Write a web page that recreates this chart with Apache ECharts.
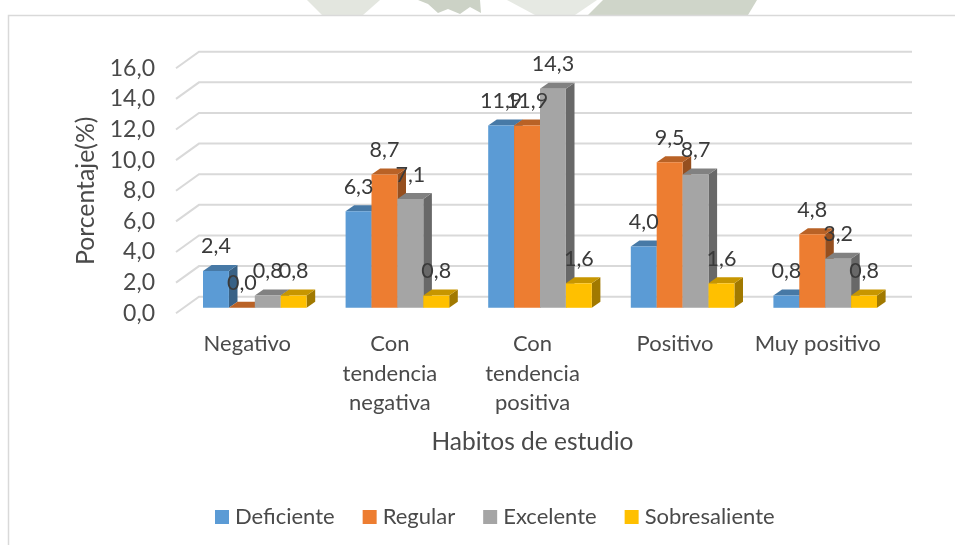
<!DOCTYPE html>
<html><head><meta charset="utf-8">
<style>html,body{margin:0;padding:0;background:#fff}#c{width:955px;height:545px}</style>
<script src="https://cdn.jsdelivr.net/npm/echarts@6/dist/echarts.min.js"></script>
</head><body><div id="c"></div>
<script>
const categories = ['Negativo', 'Con\ntendencia\nnegativa', 'Con\ntendencia\npositiva', 'Positivo', 'Muy positivo'];
const deficiente = [2.4, 6.3, 11.9, 4.0, 0.8];
const regular = [0.0, 8.7, 11.9, 9.5, 4.8];
const excelente = [0.8, 7.1, 14.3, 8.7, 3.2];
const sobresaliente = [0.8, 0.8, 1.6, 1.6, 0.8];
const seriesNames = ['Deficiente', 'Regular', 'Excelente', 'Sobresaliente'];
const seriesColors = ['#5B9BD5', '#ED7D31', '#A5A5A5', '#FFC000'];
const yTicks = [0, 2, 4, 6, 8, 10, 12, 14, 16];

const FONT = 'Lato';
const TXT = '#3a3a3a';
const AXT = '#4a4a4a';
const shade = (hex, f) => {
  const n = parseInt(hex.slice(1), 16);
  const c = [n >> 16, (n >> 8) & 255, n & 255].map(v => Math.round(v * f));
  return `rgb(${c[0]},${c[1]},${c[2]})`;
};
const fmt = v => v.toFixed(1).replace('.', ',');
// 3D projection of the chart box
const WALL = [23, -16.6];   // back wall offset from front axis plane
const BASE = [7.5, -5.5];   // bar front-face offset
const DEPTH = [8.6, -6];    // bar depth
const BAR_FRAC = 25.9 / 142.6;

function wallItem(params, api) {
  const r = params.coordSys;
  const y = api.coord([0, api.value(0)])[1];
  return {
    type: 'polyline',
    shape: { points: [[r.x, y], [r.x + WALL[0], y + WALL[1]], [r.x + r.width + WALL[0], y + WALL[1]]] },
    style: { stroke: '#d9d9d9', lineWidth: 2, fill: null },
    z2: 0
  };
}
function barItem(sIdx) {
  return function (params, api) {
    const cat = api.value(0), val = api.value(1);
    const band = api.size([1, 0])[0];
    const w = band * BAR_FRAC;
    const c = api.coord([cat, val]);
    const c0 = api.coord([cat, 0]);
    const x0 = c[0] + BASE[0] + (sIdx - 2) * w, x1 = x0 + w;
    const yt = c[1] + BASE[1], yb = c0[1] + BASE[1];
    const col = api.visual('color');
    const dx = DEPTH[0], dy = DEPTH[1];
    return {
      type: 'group',
      children: [
        { type: 'polygon', shape: { points: [[x1, yt], [x1 + dx, yt + dy], [x1 + dx, yb + dy], [x1, yb]] }, style: { fill: shade(col, 0.63) }, z2: 10 + sIdx },
        { type: 'polygon', shape: { points: [[x0, yt], [x0 + dx, yt + dy], [x1 + dx, yt + dy], [x1, yt]] }, style: { fill: shade(col, 0.78) }, z2: 10 + sIdx },
        { type: 'rect', shape: { x: x0, y: yt, width: w, height: yb - yt }, style: { fill: col }, z2: 10 + sIdx },
        { type: 'text', x: (x0 + x1) / 2, y: yt - 24.5, style: { text: fmt(val), fill: TXT, font: `21.5px ${FONT}`, align: 'center', verticalAlign: 'middle' }, z2: 100 }
      ]
    };
  };
}
const valueRows = [deficiente, regular, excelente, sobresaliente];
const chart = echarts.init(document.getElementById('c'), null, { renderer: 'canvas' });
chart.setOption({
  animation: false,
  backgroundColor: '#fff',
  textStyle: { fontFamily: FONT },
  grid: { left: 176, top: 68.3, width: 713, height: 245 },
  legend: {
    left: 210, top: 501, itemWidth: 14, itemHeight: 14, itemGap: 28, icon: 'rect',
    data: seriesNames, textStyle: { fontFamily: FONT, fontSize: 22, color: AXT, padding: [0, 0, 0, 1] }
  },
  xAxis: {
    type: 'category', data: categories,
    axisLine: { show: false }, axisTick: { show: false },
    axisLabel: { fontFamily: FONT, fontSize: 22, color: AXT, lineHeight: 29.5, margin: 16, interval: 0 },
    name: 'Habitos de estudio', nameLocation: 'middle', nameGap: 129,
    nameTextStyle: { fontFamily: FONT, fontSize: 24.5, color: AXT, verticalAlign: 'middle' }
  },
  yAxis: {
    type: 'value', min: 0, max: 16, interval: 2,
    axisLine: { show: false }, axisTick: { show: false }, splitLine: { show: false },
    axisLabel: { fontFamily: FONT, fontSize: 23, color: AXT, margin: 21, formatter: fmt },
    name: 'Porcentaje(%)', nameLocation: 'middle', nameGap: 89, nameRotate: 90,
    nameTextStyle: { fontFamily: FONT, fontSize: 24.8, color: AXT, verticalAlign: 'middle' }
  },
  graphic: [
    { type: 'polygon', shape: { points: [[307, 0], [380, 0], [363, 15], [322, 15]] }, style: { fill: '#e3e6df' }, silent: true },
    { type: 'polygon', shape: { points: [[418, 0], [480, 0], [481, 13], [470, 7], [460, 14], [448, 9], [438, 13], [428, 4]] }, style: { fill: '#ccd2c6' }, silent: true },
    { type: 'polygon', shape: { points: [[507, 0], [597, 0], [575, 15], [535, 15]] }, style: { fill: '#e6e9e3' }, silent: true },
    { type: 'polygon', shape: { points: [[603, 0], [757, 0], [748, 15], [588, 15]] }, style: { fill: '#cfd5c9' }, silent: true },
    { type: 'polyline', shape: { points: [[8.5, 545], [8.5, 15.5], [955, 15.5]] }, style: { stroke: '#d9d9d9', lineWidth: 1.5, fill: null }, silent: true }
  ],
  series: [
    { type: 'custom', name: 'wall', renderItem: wallItem, data: yTicks.map(v => [v]), encode: { y: 0 }, silent: true, z: 1, clip: false },
    ...seriesNames.map((name, i) => ({
      type: 'custom', name, renderItem: barItem(i),
      itemStyle: { color: seriesColors[i] },
      data: valueRows[i].map((v, k) => [k, v]),
      encode: { x: 0, y: 1 }, z: 2, clip: false
    }))
  ]
});
</script></body></html>
